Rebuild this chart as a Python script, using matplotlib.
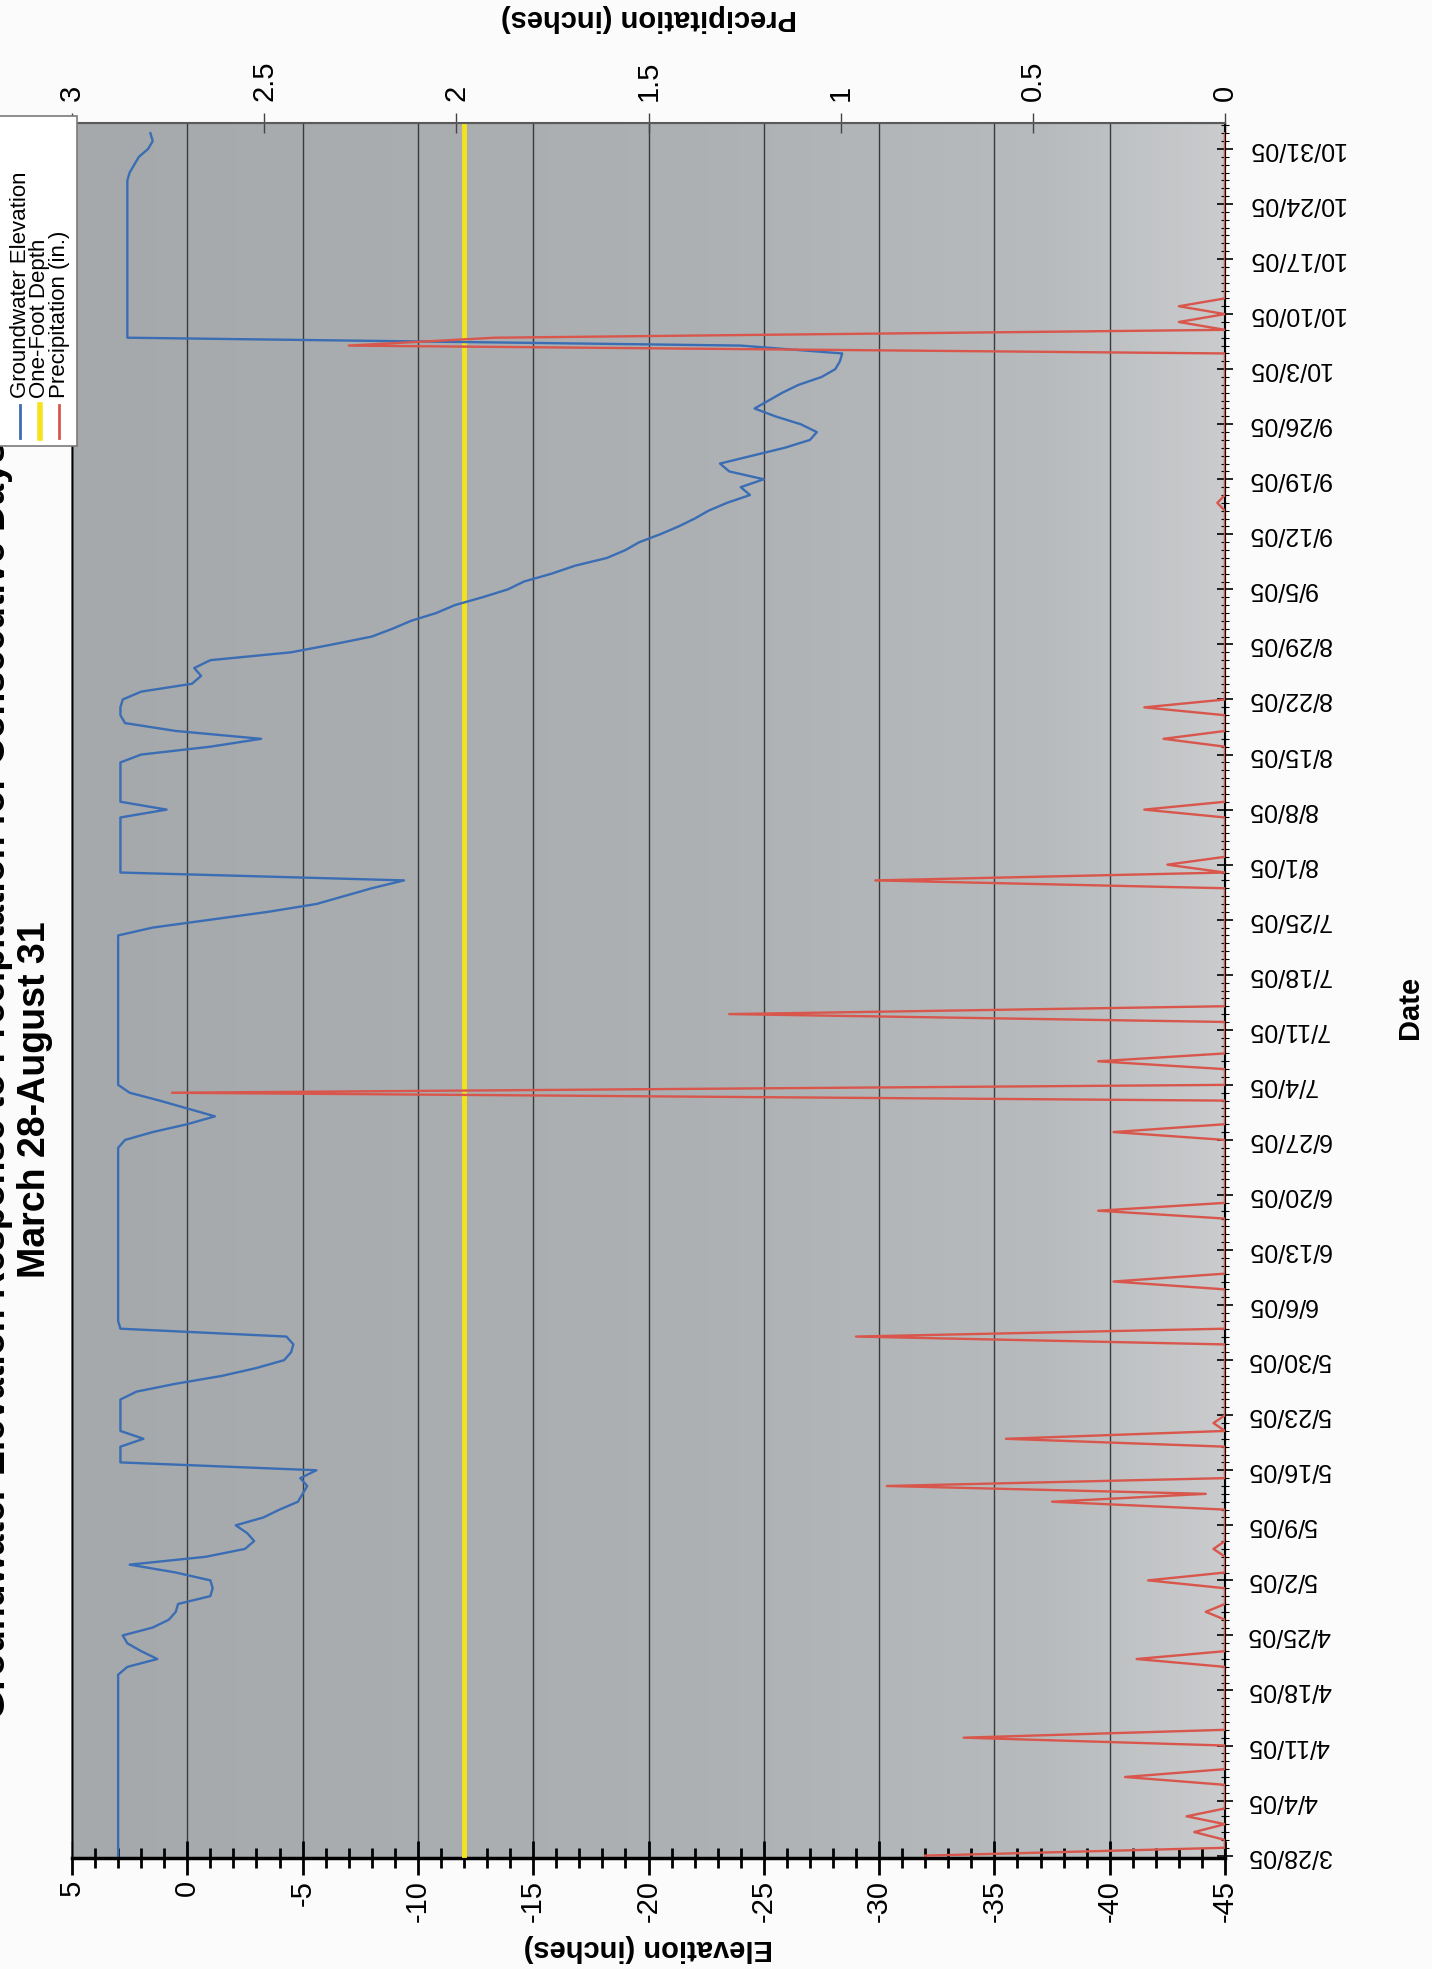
import numpy as np
import pandas as pd
import matplotlib
matplotlib.use('Agg')
import matplotlib.pyplot as plt
import matplotlib.dates as mdates
from matplotlib.ticker import MultipleLocator, FuncFormatter
from matplotlib.patches import Rectangle
from matplotlib.lines import Line2D
from matplotlib.colors import LinearSegmentedColormap

plt.rcParams['font.family'] = ['Liberation Sans', 'DejaVu Sans']

# daily readings starting 3/28/05
start_date = '2005-03-28'

# groundwater elevation (inches), one value per day, one row per week
groundwater = [
    3.0, 3.0, 3.0, 3.0, 3.0, 3.0, 3.0,
    3.0, 3.0, 3.0, 3.0, 3.0, 3.0, 3.0,
    3.0, 3.0, 3.0, 3.0, 3.0, 3.0, 3.0,
    3.0, 3.0, 3.0, 2.6, 1.3, 2.0, 2.6,
    2.8, 1.5, 0.8, 0.5, 0.4, -1.0, -1.1,
    -1.0, 0.5, 2.5, -0.8, -2.5, -2.9, -2.6,
    -2.1, -3.3, -4.0, -4.8, -5.0, -5.2, -4.9,
    -5.6, 2.9, 2.9, 2.9, 1.9, 2.9, 2.9,
    2.9, 2.9, 2.9, 2.2, 0.5, -1.5, -3.0,
    -4.2, -4.5, -4.6, -4.3, 2.9, 3.0, 3.0,
    3.0, 3.0, 3.0, 3.0, 3.0, 3.0, 3.0,
    3.0, 3.0, 3.0, 3.0, 3.0, 3.0, 3.0,
    3.0, 3.0, 3.0, 3.0, 3.0, 3.0, 3.0,
    2.7, 1.5, 0.0, -1.2, 0.0, 1.2, 2.5,
    3.0, 3.0, 3.0, 3.0, 3.0, 3.0, 3.0,
    3.0, 3.0, 3.0, 3.0, 3.0, 3.0, 3.0,
    3.0, 3.0, 3.0, 3.0, 3.0, 3.0, 1.5,
    -1.0, -3.5, -5.6, -6.8, -8.0, -9.4, 2.9,
    2.9, 2.9, 2.9, 2.9, 2.9, 2.9, 2.9,
    0.9, 2.9, 2.9, 2.9, 2.9, 2.9, 2.9,
    2.0, -1.0, -3.2, 0.5, 2.7, 2.9, 2.9,
    2.8, 2.0, -0.2, -0.6, -0.3, -1.0, -4.5,
    -6.3, -8.0, -8.9, -9.7, -10.8, -11.6, -12.8,
    -13.9, -14.6, -15.8, -16.8, -18.2, -19.0, -19.6,
    -20.5, -21.3, -22.0, -22.6, -23.4, -24.4, -24.0,
    -25.0, -23.5, -23.1, -24.5, -25.9, -27.0, -27.3,
    -26.6, -25.5, -24.6, -25.2, -25.8, -26.5, -27.5,
    -28.1, -28.3, -28.4, -24.0, 2.6, 2.6, 2.6,
    2.6, 2.6, 2.6, 2.6, 2.6, 2.6, 2.6,
    2.6, 2.6, 2.6, 2.6, 2.6, 2.6, 2.6,
    2.6, 2.6, 2.6, 2.6, 2.5, 2.3, 2.1,
    1.7, 1.5, 1.6,
]

# daily precipitation (inches)
precipitation = [
    0.78, 0, 0, 0.08, 0, 0.10, 0,
    0, 0, 0, 0.26, 0, 0, 0,
    0, 0.68, 0, 0, 0, 0, 0,
    0, 0, 0, 0, 0.23, 0, 0,
    0, 0, 0, 0.05, 0, 0, 0,
    0.20, 0, 0, 0, 0.03, 0, 0,
    0, 0, 0, 0.45, 0.05, 0.88, 0,
    0, 0, 0, 0, 0.57, 0, 0.03,
    0, 0, 0, 0, 0, 0, 0,
    0, 0, 0, 0.96, 0, 0, 0,
    0, 0, 0, 0.29, 0, 0, 0,
    0, 0, 0, 0, 0, 0.33, 0,
    0, 0, 0, 0, 0, 0, 0,
    0, 0.29, 0, 0, 0, 0, 2.74,
    0, 0, 0, 0.33, 0, 0, 0,
    0, 0, 1.29, 0, 0, 0, 0,
    0, 0, 0, 0, 0, 0, 0,
    0, 0, 0, 0, 0, 0.91, 0,
    0.15, 0, 0, 0, 0, 0, 0,
    0.21, 0, 0, 0, 0, 0, 0,
    0, 0, 0.16, 0, 0, 0, 0.21,
    0, 0, 0, 0, 0, 0, 0,
    0, 0, 0, 0, 0, 0, 0,
    0, 0, 0, 0, 0, 0, 0,
    0, 0, 0, 0, 0.02, 0, 0,
    0, 0, 0, 0, 0, 0, 0,
    0, 0, 0, 0, 0, 0, 0,
    0, 0, 0, 2.28, 1.90, 0, 0.12,
    0, 0.12, 0, 0, 0, 0, 0,
    0, 0, 0, 0, 0, 0, 0,
    0, 0, 0, 0, 0, 0, 0,
    0, 0, 0,
]

one_foot_depth = -12.0

elev_ticks = [5, 0, -5, -10, -15, -20, -25, -30, -35, -40, -45]
precip_ticks = [0, 0.5, 1, 1.5, 2, 2.5, 3]
precip_tick_labels = ['0', '0.5', '1', '1.5', '2', '2.5', '3']

dates = pd.date_range(start_date, periods=len(groundwater), freq='D')
t0 = mdates.date2num(dates[0])

BLUE = '#3a6db3'
YELLOW = '#f3e21c'
RED = '#d8564c'

fig = plt.figure(figsize=(14.32, 19.69), dpi=100, facecolor='#fbfbfb')
W, H = 1432.0, 1969.0
ax = fig.add_axes([72 / W, 1 - 1858 / H, (1225 - 72) / W, (1858 - 123) / H])

# grey plot area, a little lighter towards the date axis
scan = LinearSegmentedColormap.from_list(
    'plotbg', [(0, '#a5a9ac'), (0.55, '#aeb1b4'), (0.85, '#b8bbbd'), (1, '#c9cbcd')])
ax.imshow(np.linspace(0, 1, 256)[None, :], extent=[0, 1, 0, 1], transform=ax.transAxes,
          aspect='auto', cmap=scan, zorder=0, interpolation='bilinear')

ax.plot(groundwater, dates, color=BLUE, lw=1.7, zorder=4)
ax.axvline(one_foot_depth, color=YELLOW, lw=3.5, zorder=3)

ax.set_xlim(5, -45)
ax.set_ylim(t0 - 0.3, t0 + 220.3)

# elevation axis (bottom)
ax.set_xticks(elev_ticks)
ax.set_xticklabels([str(v) for v in elev_ticks])
ax.xaxis.set_minor_locator(MultipleLocator(1))
ax.tick_params(axis='x', which='major', direction='inout', length=24, width=2,
               labelsize=21, labelrotation=90, pad=4)
ax.tick_params(axis='x', which='minor', direction='inout', length=15, width=2)
ax.grid(axis='x', which='major', color='#3a3a3a', lw=1.0)
ax.set_axisbelow('line')

# date axis (right side)
ax.yaxis.tick_right()
ax.yaxis.set_major_locator(mdates.WeekdayLocator(byweekday=mdates.MO))
ax.yaxis.set_minor_locator(mdates.DayLocator())
ax.yaxis.set_major_formatter(FuncFormatter(
    lambda v, p: '{d.month}/{d.day}/{y}'.format(d=mdates.num2date(v), y=mdates.num2date(v).strftime('%y'))))
ax.tick_params(axis='y', which='major', direction='inout', length=12, width=1.2,
               labelsize=18, labelrotation=180, pad=10)
ax.tick_params(axis='y', which='minor', direction='inout', length=6, width=0.8)
for lab in ax.get_yticklabels():
    lab.set_va('center')

ax.spines['bottom'].set_linewidth(2.5)
ax.spines['bottom'].set_color('black')
ax.spines['right'].set_linewidth(1.5)
ax.spines['left'].set_linewidth(2.0)
ax.spines['left'].set_color('#5a5a5a')
ax.spines['top'].set_color('#5a5a5a')

ax.set_xlabel('Elevation (inches)', fontsize=21, fontweight='bold', rotation=180,
              ha='center', va='center')
ax.xaxis.set_label_coords(0.5, -0.052)
ax.set_ylabel('Date', fontsize=21, fontweight='bold', rotation=90, ha='center', va='center')
ax.yaxis.set_label_position('right')
ax.yaxis.set_label_coords(1.148, 0.49)

# precipitation axis (top)
ax2 = ax.twiny()
ax2.plot(precipitation, dates, color=RED, lw=1.7, zorder=5)
ax2.set_xlim(3, 0)
ax2.set_xticks(precip_ticks)
ax2.set_xticklabels(precip_tick_labels)
ax2.tick_params(axis='x', which='major', direction='inout', length=14, width=1.0,
                labelsize=21, labelrotation=90, pad=9, color='#444444')
ax2.spines['top'].set_color('#5a5a5a')
ax2.spines['top'].set_linewidth(1.5)
ax2.set_xlabel('Precipitation (inches)', fontsize=21, fontweight='bold', rotation=180,
               ha='center', va='center')
ax2.xaxis.set_label_position('top')
ax2.xaxis.set_label_coords(0.5, 1 + (123 - 26) / (1858 - 123))

# title, running up the left edge (first line runs off the page)
fig.text(-5 / W, 1 - 1080 / H,
         'Groundwater Elevation Response to Precipitation for Consecutive Days',
         rotation=90, fontsize=27, fontweight='bold', ha='center', va='center')
fig.text(35 / W, 1 - 1100 / H, 'March 28-August 31', rotation=90, fontsize=27,
         fontweight='bold', ha='center', va='center')

# legend box in the upper left corner
fig.add_artist(Rectangle((-12 / W, 1 - 446 / H), 89 / W, 330 / H, transform=fig.transFigure,
                         facecolor='white', edgecolor='#7a7a7a', lw=1.2, zorder=5))
entries = [('Groundwater Elevation', BLUE, 2.0),
           ('One-Foot Depth', YELLOW, 4.0),
           ('Precipitation (in.)', RED, 2.0)]
for i, (name, col, lw) in enumerate(entries):
    xc = (20 + 19.5 * i) / W
    fig.add_artist(Line2D([xc, xc], [1 - 438 / H, 1 - 405 / H], transform=fig.transFigure,
                          color=col, lw=lw, zorder=6))
    fig.text(xc, 1 - 398 / H, name, rotation=90, rotation_mode='anchor', ha='left',
             va='center', fontsize=16, zorder=6)

fig.savefig('out.png', dpi=100, facecolor=fig.get_facecolor())
